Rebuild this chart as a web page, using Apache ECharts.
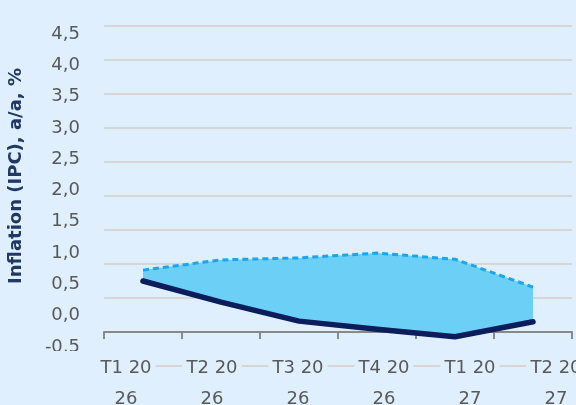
<!DOCTYPE html>
<html>
<head>
<meta charset="utf-8">
<script src="https://cdn.jsdelivr.net/npm/echarts@6/dist/echarts.min.js"></script>
<style>
  html, body { margin: 0; padding: 0; background: #dfeffd; }
  #chart { width: 576px; height: 405px; }
</style>
</head>
<body>
<div id="chart"></div>
<script>
// Quarterly inflation forecast band (IPC, a/a, %)
const categories = ['T1 2026', 'T2 2026', 'T3 2026', 'T4 2026', 'T1 2027', 'T2 2027'];
const upperBound = [0.91, 1.06, 1.09, 1.16, 1.07, 0.66];
const lowerBound = [0.75, 0.44, 0.16, 0.04, -0.07, 0.15];
const yTicks = { min: -0.5, max: 4.5, step: 0.5 };
const yTitle = 'Inflation (IPC), a/a, %';

const bandWidth = upperBound.map((v, i) => +(v - lowerBound[i]).toFixed(2));

const BG = '#dfeffd';
const FONT = '"DejaVu Sans", Lato, sans-serif';
const TEXT = '#595959';

const chart = echarts.init(document.getElementById('chart'), null, { renderer: 'canvas' });

chart.setOption({
  backgroundColor: BG,
  animation: false,
  grid: [
    // plot area
    { left: 104, top: 26, width: 468, height: 340, outerBoundsMode: 'none' },
    // value labels
    { left: 88, top: 34, width: 468, height: 313, outerBoundsMode: 'none' },
    // category labels
    { left: 83, top: 0, width: 516, height: 353, outerBoundsMode: 'none' }
  ],
  xAxis: [
    {
      gridIndex: 0, type: 'category', data: categories, boundaryGap: true,
      axisLine: { onZero: true, lineStyle: { color: '#898989', width: 2 } },
      axisTick: { show: true, length: 7, lineStyle: { color: '#898989', width: 2 } },
      axisLabel: { show: false },
      splitLine: { show: false }
    },
    {
      gridIndex: 1, type: 'category', data: categories, show: false
    },
    {
      gridIndex: 2, type: 'category', data: categories, boundaryGap: true, z: 5,
      axisLine: { show: false }, axisTick: { show: false }, splitLine: { show: false },
      axisLabel: {
        interval: 0, margin: 0,
        color: TEXT, fontFamily: FONT, fontSize: 18, lineHeight: 31,
        backgroundColor: BG, padding: [0, 4],
        formatter: (v) => v.slice(0, 5) + '\n' + v.slice(5)
      }
    }
  ],
  yAxis: [
    {
      gridIndex: 0, type: 'value', min: yTicks.min, max: yTicks.max, interval: yTicks.step,
      axisLine: { show: false }, axisTick: { show: false }, axisLabel: { show: false },
      splitLine: { show: true, lineStyle: { color: '#d6d6d6', width: 2 } }
    },
    {
      gridIndex: 1, type: 'value', min: yTicks.min, max: yTicks.max, interval: yTicks.step,
      axisLine: { show: false }, axisTick: { show: false }, splitLine: { show: false },
      axisLabel: {
        margin: 8, color: TEXT, fontFamily: FONT, fontSize: 18,
        formatter: (v) => v.toFixed(1).replace('.', ',')
      }
    },
    {
      gridIndex: 2, type: 'value', show: false
    }
  ],
  graphic: [
    {
      type: 'rect', z: 100,
      shape: { x: 0, y: 351, width: 98, height: 54 },
      style: { fill: BG }
    },
    {
      type: 'text', z: 100,
      x: 16, y: 176, rotation: Math.PI / 2,
      style: {
        text: yTitle, fill: '#1f3864',
        font: 'bold 18px ' + FONT,
        align: 'center', verticalAlign: 'middle'
      }
    }
  ],
  series: [
    {
      name: 'base', type: 'line', xAxisIndex: 0, yAxisIndex: 0,
      stack: 'band', stackStrategy: 'all',
      data: lowerBound, symbol: 'none', silent: true,
      lineStyle: { opacity: 0 }
    },
    {
      name: 'range', type: 'line', xAxisIndex: 0, yAxisIndex: 0,
      stack: 'band', stackStrategy: 'all',
      data: bandWidth, symbol: 'none', silent: true,
      lineStyle: { opacity: 0 },
      areaStyle: { color: '#6ccff6', opacity: 1 }
    },
    {
      name: 'upper', type: 'line', xAxisIndex: 0, yAxisIndex: 0,
      data: upperBound, symbol: 'none', z: 3,
      lineStyle: { color: '#18a6ee', width: 3, type: [6, 4] }
    },
    {
      name: 'lower', type: 'line', xAxisIndex: 0, yAxisIndex: 0,
      data: lowerBound, symbol: 'none', z: 4,
      lineStyle: { color: '#0b1d5b', width: 5.5, cap: 'round', join: 'round' }
    }
  ]
});
</script>
</body>
</html>
